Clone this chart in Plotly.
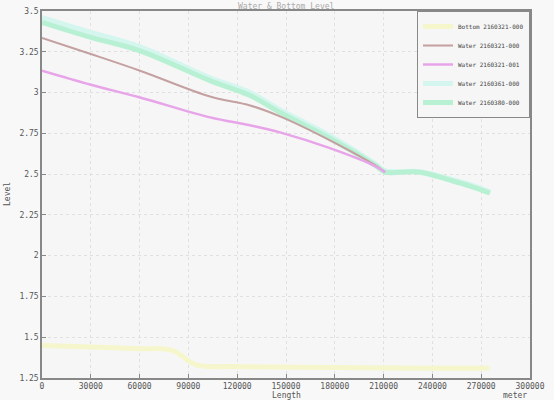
import plotly.graph_objects as go

# Data
x_green = [0, 29500, 60250, 103300, 127900, 146300, 177000, 204700, 210900, 220000, 232400, 250800, 263100, 275400]
y_green = [3.43, 3.34, 3.256, 3.073, 2.982, 2.878, 2.72, 2.555, 2.512, 2.512, 2.512, 2.463, 2.427, 2.384]
y_cyan = [3.46, 3.37, 3.28, 3.09, 3.0, 2.895, 2.735, 2.565, 2.52, 2.515, 2.515, 2.47, 2.435, 2.39]

x_red = [0, 29500, 60250, 103300, 127900, 146300, 177000, 204700, 210900]
y_red = [3.335, 3.238, 3.134, 2.976, 2.921, 2.854, 2.707, 2.555, 2.512]

x_mag = [0, 29500, 60250, 103300, 127900, 146300, 177000, 204700, 210900]
y_mag = [3.134, 3.049, 2.970, 2.848, 2.799, 2.756, 2.659, 2.549, 2.512]

x_bot = [0, 30000, 60000, 80000, 95000, 120000, 180000, 240000, 275000]
y_bot = [1.45, 1.44, 1.43, 1.42, 1.33, 1.32, 1.315, 1.31, 1.31]

x_ticks = [0, 30000, 60000, 90000, 120000, 150000, 180000, 210000, 240000, 270000, 300000]

names = ["Bottom 2160321-000", "Water 2160321-000", "Water 2160321-001",
         "Water 2160361-000", "Water 2160380-000"]

FONT = "DejaVu Sans Mono"

fig = go.Figure()
fig.add_trace(go.Scatter(x=x_bot, y=y_bot, mode="lines", name=names[0],
                         line=dict(color="#f6f6cc", width=5, shape="spline")))
fig.add_trace(go.Scatter(x=x_green, y=y_cyan, mode="lines", name=names[3],
                         line=dict(color="#d4f6ee", width=5, shape="spline"),
                         legendrank=4))
fig.add_trace(go.Scatter(x=x_green, y=y_green, mode="lines", name=names[4],
                         line=dict(color="#b8f0d4", width=5, shape="spline"),
                         legendrank=5))
fig.add_trace(go.Scatter(x=x_red, y=y_red, mode="lines", name=names[1],
                         line=dict(color="#c4a0a0", width=2, shape="spline"),
                         legendrank=2))
fig.add_trace(go.Scatter(x=x_mag, y=y_mag, mode="lines", name=names[2],
                         line=dict(color="#e8a4e8", width=2.5, shape="spline"),
                         legendrank=3))
fig.data[0].legendrank = 1

fig.update_layout(
    width=554, height=400,
    margin=dict(l=42, r=24, t=7, b=22),
    paper_bgcolor="#f8f8f8",
    plot_bgcolor="#f6f6f6",
    font=dict(family=FONT, size=8, color="#555555"),
    showlegend=True,
    legend=dict(x=1, y=1, xanchor="right", yanchor="top",
                bgcolor="#f6f6f6", bordercolor="#888888", borderwidth=1,
                font=dict(family=FONT, size=6, color="#444444"),
                tracegroupgap=0, itemwidth=30, traceorder="normal"),
    xaxis=dict(range=[0, 300000], tickmode="array", tickvals=x_ticks,
               ticktext=[str(v) for v in x_ticks],
               showgrid=True, gridcolor="#e0e0e0", griddash="dot",
               showline=True, linecolor="#888888", linewidth=1.5, mirror=True,
               ticks="inside", ticklen=4, tickcolor="#888888",
               zeroline=False, tickfont=dict(size=8)),
    yaxis=dict(range=[1.25, 3.5], dtick=0.25,
               showgrid=True, gridcolor="#e0e0e0", griddash="dot",
               showline=True, linecolor="#888888", linewidth=1.5, mirror=True,
               ticks="inside", ticklen=4, tickcolor="#888888",
               zeroline=False, tickfont=dict(size=8)),
    annotations=[
        dict(text="Length", x=0.5, y=0, xref="paper", yref="paper",
             xanchor="center", yanchor="top", yshift=-11, showarrow=False,
             font=dict(size=8)),
        dict(text="meter", x=0.97, y=0, xref="paper", yref="paper",
             xanchor="center", yanchor="top", yshift=-11, showarrow=False,
             font=dict(size=8)),
        dict(text="Level", x=0, y=0.5, xref="paper", yref="paper",
             xanchor="right", yanchor="middle", xshift=-28, textangle=-90,
             showarrow=False, font=dict(size=8)),
        dict(text="Water & Bottom Level", x=0.5, y=1, xref="paper", yref="paper",
             xanchor="center", yanchor="bottom", yshift=-2, showarrow=False,
             font=dict(size=8, color="#aaaaaa")),
    ],
)

fig.write_html("out.html")
